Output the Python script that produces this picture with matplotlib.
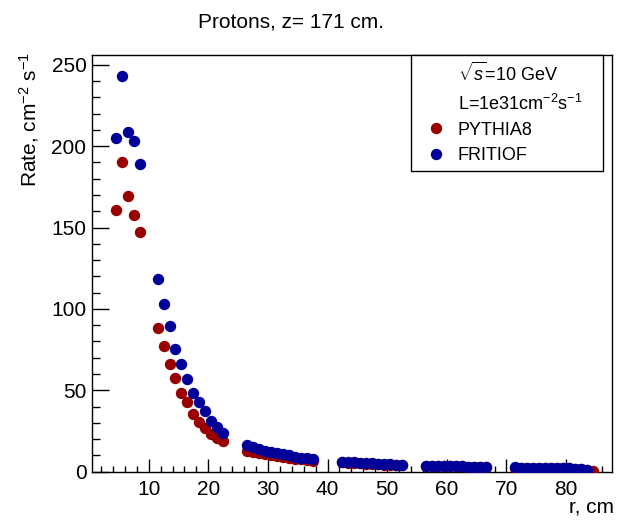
import matplotlib
matplotlib.use("Agg")
import matplotlib.pyplot as plt
from matplotlib.lines import Line2D

plt.rcParams['font.family'] = ['Liberation Sans', 'DejaVu Sans']
plt.rcParams['mathtext.fontset'] = 'custom'
plt.rcParams['mathtext.rm'] = 'Liberation Sans'
plt.rcParams['mathtext.it'] = 'Liberation Sans:italic'
plt.rcParams['mathtext.bf'] = 'Liberation Sans:bold'

# ---- data (r in cm, rate in cm^-2 s^-1) ----
r_pythia = [4.5, 5.5, 6.5, 7.5, 8.5,
            11.5, 12.5, 13.5, 14.5, 15.5, 16.5, 17.5, 18.5, 19.5, 20.5, 21.5, 22.5,
            26.5, 27.5, 28.5, 29.5, 30.5, 31.5, 32.5, 33.5, 34.5, 35.5, 36.5, 37.5,
            42.5, 43.5, 44.5, 45.5, 46.5, 47.5, 48.5, 49.5, 50.5, 51.5, 52.5,
            56.5, 57.5, 58.5, 59.5, 60.5, 61.5, 62.5, 63.5, 64.5, 65.5, 66.5,
            71.5, 72.5, 73.5, 74.5, 75.5, 76.5, 77.5, 78.5, 79.5, 80.5, 81.5, 82.5, 83.5, 84.5]
rate_pythia = [160.9, 190.2, 169.5, 157.7, 147.5,
               88.1, 77.4, 66.0, 57.4, 48.6, 43.0, 35.5, 30.7, 26.9, 23.2, 20.9, 18.9,
               12.8, 12.0, 11.3, 10.6, 10.0, 9.4, 8.9, 8.4, 7.9, 7.5, 7.1, 6.8,
               5.8, 5.6, 5.4, 5.2, 5.0, 4.8, 4.6, 4.4, 4.3, 4.1, 4.0,
               3.5, 3.5, 3.4, 3.4, 3.3, 3.2, 3.2, 3.1, 3.0, 2.9, 2.7,
               2.5, 2.5, 2.4, 2.4, 2.3, 2.3, 2.2, 2.2, 2.1, 2.0, 1.8, 1.5, 1.2, 0.6]

r_fritiof = [4.5, 5.5, 6.5, 7.5, 8.5,
             11.5, 12.5, 13.5, 14.5, 15.5, 16.5, 17.5, 18.5, 19.5, 20.5, 21.5, 22.5,
             26.5, 27.5, 28.5, 29.5, 30.5, 31.5, 32.5, 33.5, 34.5, 35.5, 36.5, 37.5,
             42.5, 43.5, 44.5, 45.5, 46.5, 47.5, 48.5, 49.5, 50.5, 51.5, 52.5,
             56.5, 57.5, 58.5, 59.5, 60.5, 61.5, 62.5, 63.5, 64.5, 65.5, 66.5,
             71.5, 72.5, 73.5, 74.5, 75.5, 76.5, 77.5, 78.5, 79.5, 80.5, 81.5, 82.5, 83.5]
rate_fritiof = [205.3, 243.3, 208.6, 203.1, 189.0,
                118.4, 102.9, 89.7, 75.6, 66.2, 57.2, 48.6, 42.7, 37.1, 31.3, 27.7, 24.0,
                16.2, 15.0, 14.0, 13.0, 12.2, 11.4, 10.6, 10.0, 9.3, 8.7, 8.2, 7.6,
                6.2, 6.0, 5.8, 5.6, 5.4, 5.2, 5.0, 4.8, 4.6, 4.4, 4.2,
                3.8, 3.7, 3.6, 3.5, 3.4, 3.3, 3.2, 3.1, 3.0, 2.9, 2.8,
                2.6, 2.5, 2.5, 2.4, 2.4, 2.3, 2.3, 2.2, 2.1, 2.0, 1.8, 1.6, 1.3]

title = "Protons, z= 171 cm."
xlabel = "r, cm"
ylabel = r"Rate, cm$^{-2}$ s$^{-1}$"
x_ticks = [10, 20, 30, 40, 50, 60, 70, 80]
y_ticks = [0, 50, 100, 150, 200, 250]

RED = '#990000'
BLUE = '#000099'
MS = 8.2

W, H = 617, 522
fig = plt.figure(figsize=(W / 100, H / 100), dpi=100)
ax = fig.add_axes([92 / W, 1 - 471.7 / H, (612 - 92) / W, (471.7 - 55) / H])

ax.plot(r_pythia, rate_pythia, 'o', color=RED, ms=MS, mec=RED, mew=0, label='PYTHIA8', zorder=3)
ax.plot(r_fritiof, rate_fritiof, 'o', color=BLUE, ms=MS, mec=BLUE, mew=0, label='FRITIOF', zorder=4)

ax.set_xlim(0.5, 87.7)
ax.set_ylim(0, 256)
ax.set_xticks(x_ticks)
ax.set_yticks(y_ticks)
ax.set_xticks([v for v in range(2, 88, 2) if v % 10], minor=True)
ax.set_yticks([v for v in range(10, 256, 10) if v % 50], minor=True)
ax.tick_params(axis='both', which='both', direction='in', labelsize=15, width=1)
ax.tick_params(axis='x', which='major', length=9.5, pad=6)
ax.tick_params(axis='x', which='minor', length=4.5)
ax.tick_params(axis='y', which='major', length=12, pad=4)
ax.tick_params(axis='y', which='minor', length=6)
for s in ax.spines.values():
    s.set_linewidth(1.0)

fig.text(291 / W, 1 - 22 / H, title, ha='center', va='center', fontsize=15)
fig.text(614 / W, 1 - 507 / H, xlabel, ha='right', va='center', fontsize=15)
fig.text(29 / W, 1 - 52 / H, ylabel, ha='center', va='top', rotation=90, fontsize=15)

h_s = Line2D([], [], linestyle='none')
h_l = Line2D([], [], linestyle='none')
h_p = Line2D([], [], linestyle='none', marker='o', color=RED, mew=0, ms=MS)
h_f = Line2D([], [], linestyle='none', marker='o', color=BLUE, mew=0, ms=MS)
leg = ax.legend([h_s, h_l, h_p, h_f],
                [r"$\sqrt{s}$=10 GeV", r"L=1e31cm$^{-2}$s$^{-1}$", "PYTHIA8", "FRITIOF"],
                loc='upper left', mode='expand',
                bbox_to_anchor=((411 - 92) / 520, 0, (603 - 411) / 520, 1.0),
                borderaxespad=0, fontsize=13, frameon=True, fancybox=False,
                edgecolor='black', framealpha=1, borderpad=0.4, labelspacing=0.45,
                handlelength=2.0, handletextpad=0.2)
leg.get_frame().set_linewidth(1.0)

fig.savefig('out.png', dpi=100)
